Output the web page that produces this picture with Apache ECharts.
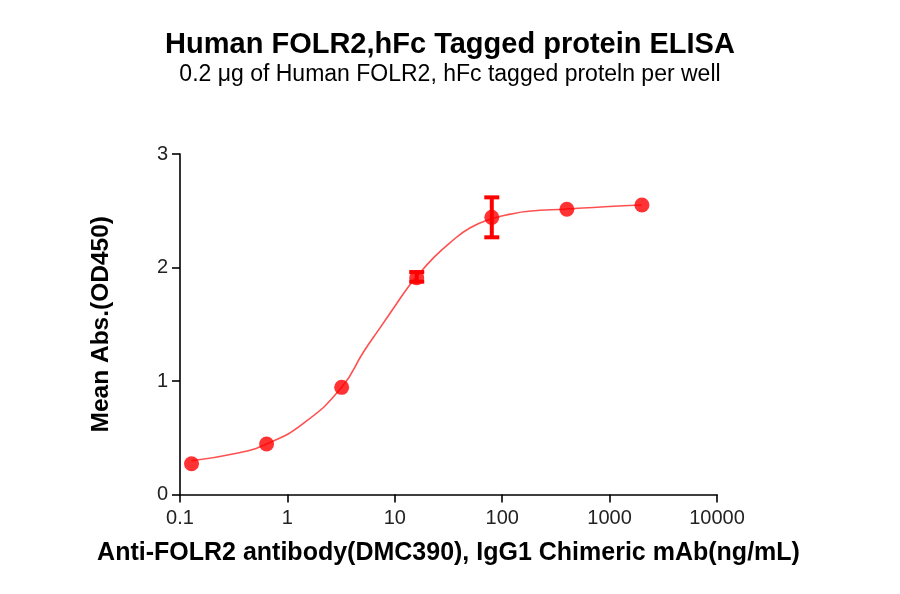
<!DOCTYPE html>
<html>
<head>
<meta charset="utf-8">
<script src="https://cdn.jsdelivr.net/npm/echarts@6/dist/echarts.min.js"></script>
<style>html,body{margin:0;padding:0;background:#fff;}#c{width:900px;height:594px;}</style>
</head>
<body>
<div id="c"></div>
<script>
var concentrations = [0.128, 0.64, 3.2, 16, 80, 400, 2000];
var meanAbs = [0.271, 0.445, 0.944, 1.91, 2.442, 2.513, 2.551];
var errLow = [null, null, null, 1.875, 2.266, null, null];
var errHigh = [null, null, null, 1.96, 2.618, null, null];
var curveX = [0.128, 0.337, 0.64, 1.41, 3.2, 5.11, 7.31, 10.46, 13.4, 16, 22.9, 32.8, 50.4, 80, 119, 176, 400, 900, 2000];
var curveY = [0.298, 0.363, 0.445, 0.627, 0.944, 1.255, 1.47, 1.685, 1.83, 1.92, 2.085, 2.22, 2.35, 2.43, 2.47, 2.495, 2.515, 2.535, 2.55];
var yTicks = [0, 1, 2, 3];
var xTickLabels = ['0.1', '1', '10', '100', '1000', '10000'];

var font = 'Liberation Sans, Arial, sans-serif';
var points = concentrations.map(function (x, i) { return [x, meanAbs[i]]; });
var curve = curveX.map(function (x, i) { return [x, curveY[i]]; });
var errData = [];
concentrations.forEach(function (x, i) {
  if (errLow[i] != null) errData.push([x, errLow[i], errHigh[i]]);
});

var chart = echarts.init(document.getElementById('c'));
chart.setOption({
  animation: false,
  title: [
    { text: 'Human FOLR2,hFc Tagged protein ELISA', left: 'center', top: 25,
      textStyle: { fontFamily: font, fontSize: 29, fontWeight: 'bold', color: '#000' } },
    { text: '0.2 \u03bcg of Human FOLR2, hFc tagged proteln per well', left: 'center', top: 58,
      textStyle: { fontFamily: font, fontSize: 23, fontWeight: 'normal', color: '#000' } }
  ],
  grid: { left: 180, right: 183, top: 154, bottom: 99.5 },
  xAxis: {
    type: 'log', logBase: 10, min: 0.1, max: 10000,
    name: 'Anti-FOLR2 antibody(DMC390), IgG1 Chimeric mAb(ng/mL)',
    nameLocation: 'middle', nameGap: 46,
    nameTextStyle: { fontFamily: font, fontSize: 25, fontWeight: 'bold', color: '#000' },
    axisLine: { onZero: false, lineStyle: { color: '#000', width: 1.6 } },
    axisTick: { show: true, length: 8, lineStyle: { color: '#000', width: 1.6 } },
    minorTick: { show: false },
    splitLine: { show: false },
    axisLabel: { fontFamily: font, fontSize: 20, color: '#222', margin: 14,
      formatter: function (v) {
        var idx = Math.round(Math.log10(v)) + 1;
        return xTickLabels[idx] !== undefined ? xTickLabels[idx] : '';
      } }
  },
  yAxis: {
    type: 'value', min: yTicks[0], max: yTicks[yTicks.length - 1], interval: 1,
    name: 'Mean Abs.(OD450)', nameLocation: 'middle', nameGap: 66,
    nameTextStyle: { fontFamily: font, fontSize: 24.5, fontWeight: 'bold', color: '#000' },
    axisLine: { show: true, lineStyle: { color: '#000', width: 1.6 } },
    axisTick: { show: true, length: 8, lineStyle: { color: '#000', width: 1.6 } },
    splitLine: { show: false },
    axisLabel: { fontFamily: font, fontSize: 20, color: '#222', margin: 12 }
  },
  series: [
    { type: 'line', data: curve, smooth: 0.5, symbol: 'none',
      lineStyle: { color: '#ff5050', width: 1.6 }, z: 2 },
    { type: 'custom', data: errData, z: 3,
      renderItem: function (params, api) {
        var x = api.value(0);
        var lo = api.coord([x, api.value(1)]);
        var hi = api.coord([x, api.value(2)]);
        var w = 7.5;
        var st = { stroke: '#ff0000', lineWidth: 4 };
        return { type: 'group', children: [
          { type: 'line', shape: { x1: lo[0], y1: lo[1], x2: hi[0], y2: hi[1] }, style: st },
          { type: 'line', shape: { x1: lo[0] - w, y1: lo[1], x2: lo[0] + w, y2: lo[1] }, style: st },
          { type: 'line', shape: { x1: hi[0] - w, y1: hi[1], x2: hi[0] + w, y2: hi[1] }, style: st }
        ] };
      } },
    { type: 'scatter', data: points, symbol: 'circle', symbolSize: 15,
      itemStyle: { color: '#ff0000' }, z: 4 }
  ]
});
</script>
</body>
</html>
